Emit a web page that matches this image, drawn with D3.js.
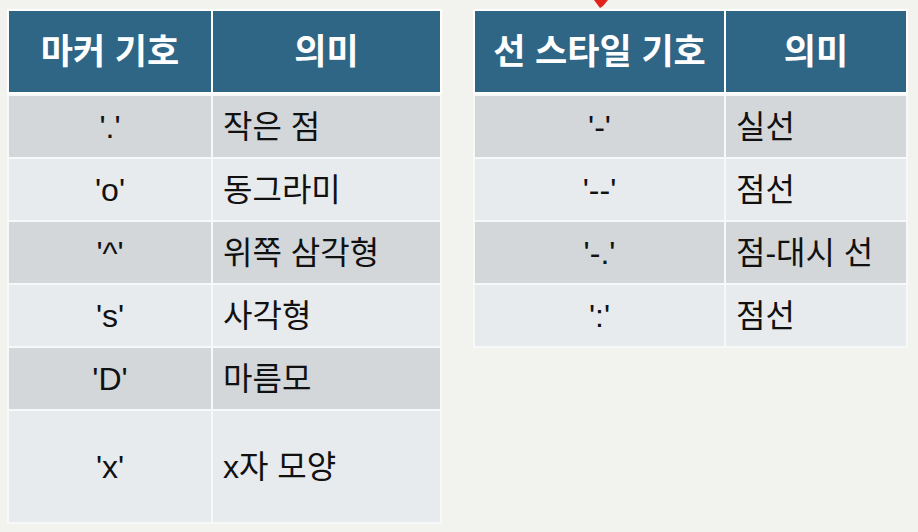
<!DOCTYPE html>
<html>
<head>
<meta charset="utf-8">
<script src="https://cdn.jsdelivr.net/npm/d3@7"></script>
<style>
  html, body { margin: 0; padding: 0; background: #f2f2ef; }
  svg { display: block; }
</style>
</head>
<body>
<svg></svg>
<script>
let width = 918, height = 532;

// Table contents
let markerHeader = ["마커 기호", "의미"];
let markerSymbols = ["'.'", "'o'", "'^'", "'s'", "'D'", "'x'"];
let markerMeanings = ["작은 점", "동그라미", "위쪽 삼각형", "사각형", "마름모", "x자 모양"];

let lineHeader = ["선 스타일 기호", "의미"];
let lineSymbols = ["'-'", "'--'", "'-.'", "':'"];
let lineMeanings = ["실선", "점선", "점-대시 선", "점선"];

let svg = d3.select("svg")
    .attr("width", width)
    .attr("height", height)
    .attr("viewBox", "0 0 " + width + " " + height);

svg.append("rect")
    .attr("width", width)
    .attr("height", height)
    .attr("fill", "#f2f2ef");

let font = "'Liberation Sans', 'Noto Sans CJK KR', sans-serif";
let headerColor = "#2f6686";
let rowColors = ["#d3d7da", "#e8ebed"];

function drawTable(x0, x1, xDiv, header, symbols, meanings, lastRowH) {
    let g = svg.append("g");
    let headTop = 10, headBottom = 93, rowH = 63;

    // row boundaries
    let rowY = d3.scaleLinear().domain([0, 1]).range([headBottom + 2, headBottom + 2 + rowH]);
    let rows = symbols.map((s, i) => {
        let h = (i == symbols.length - 1 && lastRowH) ? lastRowH : rowH;
        return { i: i, sym: s, mean: meanings[i], y: rowY(i), h: h };
    });

    let colX = d3.scaleOrdinal().domain([0, 1]).range([x0, xDiv]);
    let colW = [xDiv - x0, x1 - xDiv];

    // header
    g.selectAll(".head")
        .data(header)
        .enter()
        .append("rect")
        .attr("x", (d, i) => colX(i))
        .attr("y", headTop)
        .attr("width", (d, i) => colW[i])
        .attr("height", headBottom - headTop)
        .attr("fill", headerColor)
        .attr("stroke", "#ffffff")
        .attr("stroke-width", 2);

    g.selectAll(".headtext")
        .data(header)
        .enter()
        .append("text")
        .attr("x", (d, i) => colX(i) + colW[i] / 2)
        .attr("y", (headTop + headBottom) / 2)
        .attr("dy", "0.36em")
        .attr("text-anchor", "middle")
        .style("font-family", font)
        .style("font-size", "35px")
        .style("font-weight", "700")
        .attr("fill", "#ffffff")
        .text(d => d);

    // body cells
    let rowG = g.selectAll(".row")
        .data(rows)
        .enter()
        .append("g")
        .attr("class", "row");

    [0, 1].forEach(c => {
        rowG.append("rect")
            .attr("x", colX(c))
            .attr("y", d => d.y)
            .attr("width", colW[c])
            .attr("height", d => d.h)
            .attr("fill", d => rowColors[d.i % 2])
            .attr("stroke", "#f7f8f8")
            .attr("stroke-width", 2);
    });

    rowG.append("text")
        .attr("x", colX(0) + colW[0] / 2)
        .attr("y", d => d.y + d.h / 2)
        .attr("dy", "0.36em")
        .attr("text-anchor", "middle")
        .style("font-family", font)
        .style("font-size", "32px")
        .attr("fill", "#111111")
        .text(d => d.sym);

    rowG.append("text")
        .attr("x", colX(1) + 11)
        .attr("y", d => d.y + d.h / 2)
        .attr("dy", "0.36em")
        .attr("text-anchor", "start")
        .style("font-family", font)
        .style("font-size", "32px")
        .attr("fill", "#111111")
        .text(d => d.mean);
}

drawTable(8, 441, 212, markerHeader, markerSymbols, markerMeanings, 113);
drawTable(474, 907, 725, lineHeader, lineSymbols, lineMeanings, null);

// red pointer tip at the top edge
svg.append("path")
    .attr("d", "M594,0 L608,0 L603,6 L600,8 Z")
    .attr("fill", "#e2231a");
</script>
</body>
</html>
